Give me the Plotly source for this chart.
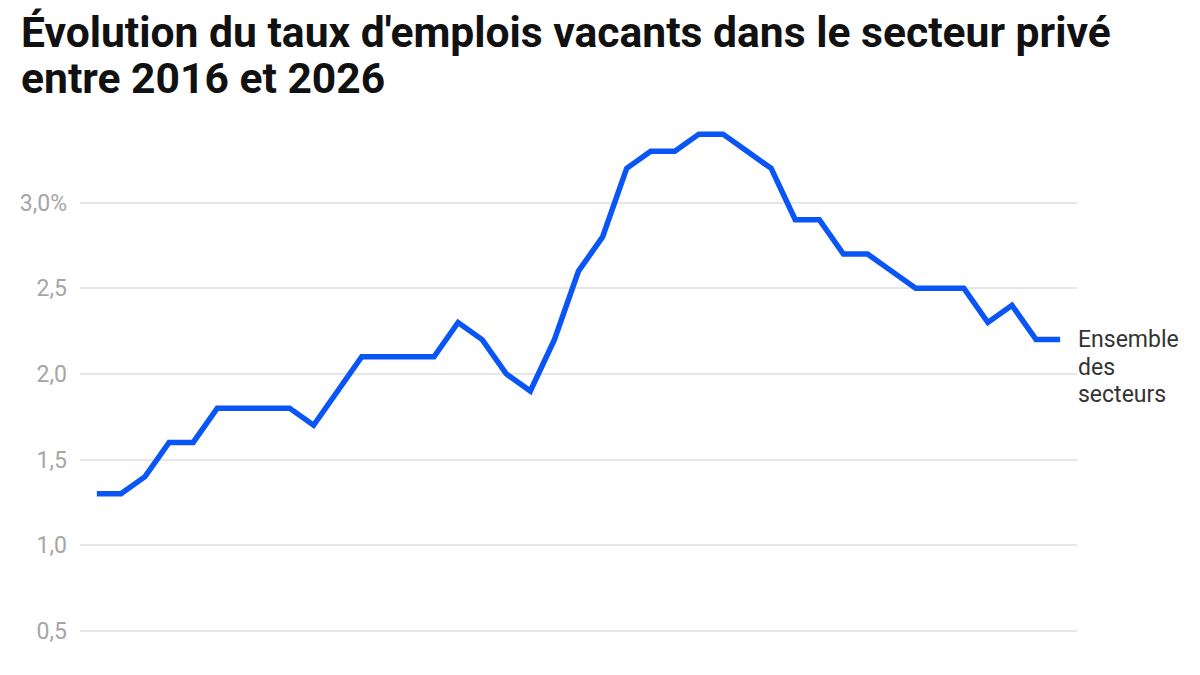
import plotly.graph_objects as go

quarters = [f"{y} T{q}" for y in range(2016, 2026) for q in range(1, 5)] + ["2026 T1"]
taux = [1.3, 1.3, 1.4, 1.6, 1.6, 1.8, 1.8, 1.8, 1.8, 1.7,
        1.9, 2.1, 2.1, 2.1, 2.1, 2.3, 2.2, 2.0, 1.9, 2.2,
        2.6, 2.8, 3.2, 3.3, 3.3, 3.4, 3.4, 3.3, 3.2, 2.9,
        2.9, 2.7, 2.7, 2.6, 2.5, 2.5, 2.5, 2.3, 2.4, 2.2, 2.2]
y_ticks = [0.5, 1.0, 1.5, 2.0, 2.5, 3.0]
y_ticklabels = ["0,5", "1,0", "1,5", "2,0", "2,5", "3,0%"]
series_label_lines = ["Ensemble", "des", "secteurs"]
title_lines = ["Évolution du taux d'emplois vacants dans le secteur privé",
               "entre 2016 et 2026"]

fig = go.Figure()
fig.add_trace(go.Scatter(
    x=list(range(len(quarters))), y=taux, mode="lines",
    line=dict(color="#0a55f5", width=5.5, shape="linear"),
    customdata=quarters, hovertemplate="%{customdata}: %{y}%<extra></extra>",
))

# Series label at the end of the line
for i, line in enumerate(series_label_lines):
    fig.add_annotation(
        x=1, xref="paper", xanchor="left", xshift=-1,
        y=taux[-1], yref="y", yanchor="middle", yshift=-27.5 * i,
        text=line, showarrow=False, align="left",
        font=dict(family="Roboto", size=23, color="#333333"),
    )

# Title (two lines, tight line spacing)
for i, line in enumerate(title_lines):
    fig.add_annotation(
        x=-0.061, xref="paper", xanchor="left",
        y=1.155 - 0.0845 * i, yref="paper", yanchor="middle",
        text=f"<b>{line}</b>", showarrow=False, align="left",
        font=dict(family="Roboto", size=42.6, color="#111111"),
    )

fig.update_layout(
    width=1200, height=675,
    paper_bgcolor="white", plot_bgcolor="white",
    margin=dict(l=72, r=131, t=109, b=18),
    showlegend=False,
    xaxis=dict(range=[-0.7, 40.7], showgrid=False, zeroline=False,
               showticklabels=False, showline=False, ticks=""),
    yaxis=dict(range=[0.3, 3.5], tickvals=y_ticks, ticktext=y_ticklabels,
               showgrid=True, gridcolor="#e6e6e6", gridwidth=1.5,
               zeroline=False, showline=False, ticks="",
               tickfont=dict(family="Roboto", size=23, color="#a6a6a6"),
               ticklabelstandoff=12),
)

fig.write_html("out.html")
